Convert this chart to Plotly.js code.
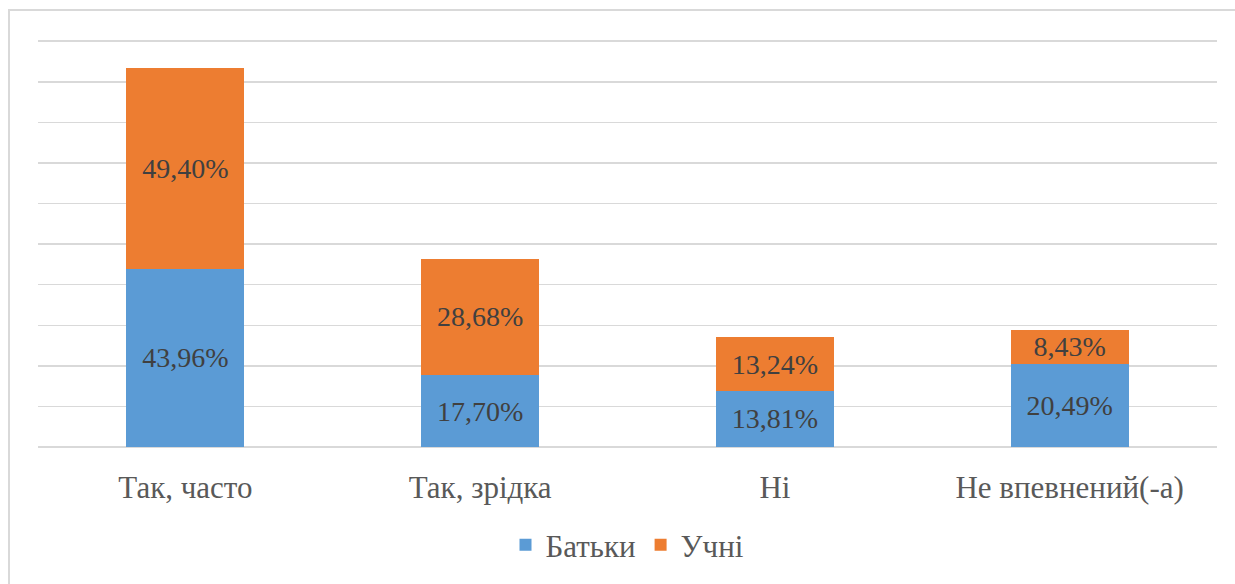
<!DOCTYPE html>
<html>
<head>
<meta charset="utf-8">
<script src="https://cdn.plot.ly/plotly-3.0.1.min.js"></script>
<style>
  html, body { margin: 0; padding: 0; background: #ffffff; }
  #wrap { position: relative; width: 1235px; height: 584px; overflow: hidden; }
  #frame { position: absolute; left: 8px; top: 9px; width: 1240px; height: 600px; border: 2px solid #d9d9d9; box-sizing: border-box; }
  #chart { position: absolute; left: 0; top: 0; width: 1235px; height: 584px; }
</style>
</head>
<body>
<div id="wrap">
  <div id="frame"></div>
  <div id="chart"></div>
</div>
<script>
const categories = ["Так, часто", "Так, зрідка", "Ні", "Не впевнений(-а)"];
const parentsName = "Батьки";
const studentsName = "Учні";
const parentsValues = [43.96, 17.70, 13.81, 20.49];
const studentsValues = [49.40, 28.68, 13.24, 8.43];

const SERIF = "Liberation Serif";
const labelFont = { family: SERIF, size: 28, color: "#404040" };

const traces = [
  {
    type: "bar", name: parentsName, x: categories, y: parentsValues,
    marker: { color: "#5b9bd5" },
    texttemplate: "%{y:.2f}%", textposition: "inside", insidetextanchor: "middle",
    constraintext: "none", textfont: labelFont, hoverinfo: "skip"
  },
  {
    type: "bar", name: studentsName, x: categories, y: studentsValues,
    marker: { color: "#ed7d31" },
    texttemplate: "%{y:.2f}%", textposition: "inside", insidetextanchor: "middle",
    constraintext: "none", textfont: labelFont, hoverinfo: "skip"
  }
];

const layout = {
  width: 1235, height: 584,
  margin: { l: 38, r: 18, t: 40, b: 134 },
  paper_bgcolor: "rgba(0,0,0,0)", plot_bgcolor: "rgba(0,0,0,0)",
  barmode: "stack", bargap: 0.6,
  separators: ",.",
  showlegend: true,
  legend: {
    orientation: "h", x: 0.5, xanchor: "center", y: -0.241, yanchor: "middle",
    font: { family: SERIF, size: 31, color: "#595959" },
    traceorder: "normal"
  },
  xaxis: {
    showgrid: false, zeroline: false, showline: false,
    ticks: "", ticklabelstandoff: 19,
    tickfont: { family: SERIF, size: 31, color: "#595959" }
  },
  yaxis: {
    range: [0, 100.3], tick0: 0, dtick: 10, showticklabels: false,
    showgrid: true, gridcolor: "#d9d9d9", gridwidth: 1.5,
    zeroline: true, zerolinecolor: "#d9d9d9", zerolinewidth: 1.5,
    showline: false, ticks: ""
  },
  font: { family: SERIF }
};

Plotly.newPlot("chart", traces, layout, { displayModeBar: false, staticPlot: true });
</script>
</body>
</html>
